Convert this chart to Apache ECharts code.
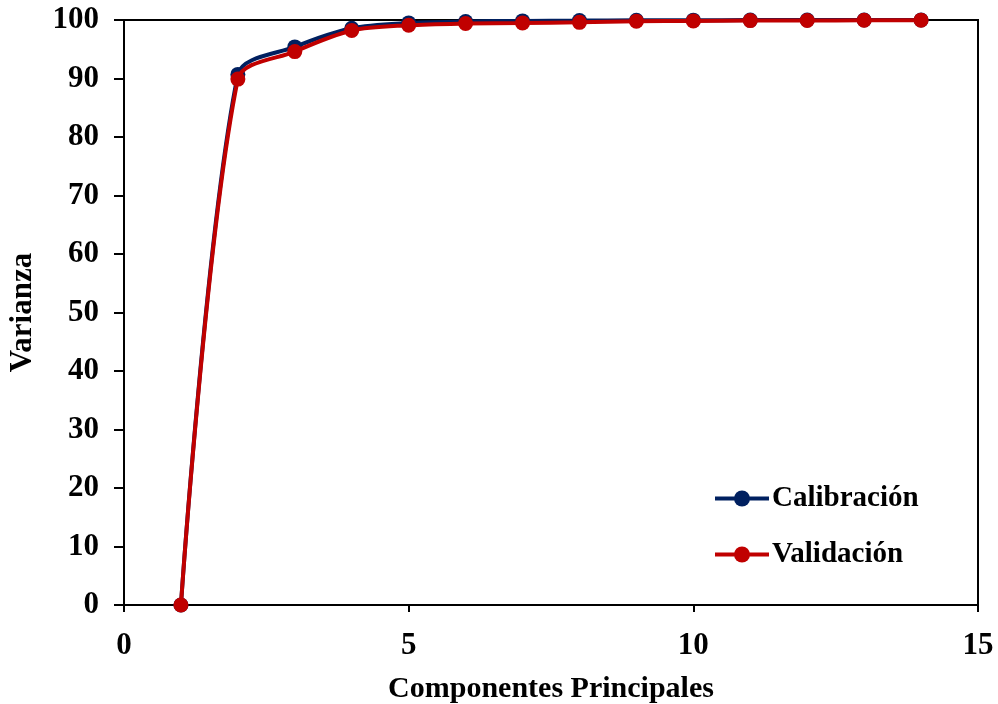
<!DOCTYPE html>
<html>
<head>
<meta charset="utf-8">
<script src="https://cdn.jsdelivr.net/npm/echarts@6/dist/echarts.min.js"></script>
<style>
html,body{margin:0;padding:0;background:#fff;}
#chart{width:998px;height:704px;}
</style>
</head>
<body>
<div id="chart"></div>
<script>
// Cumulative explained variance per number of principal components
const components = [1, 2, 3, 4, 5, 6, 7, 8, 9, 10, 11, 12, 13, 14];
const calibracion = [0, 90.7, 95.4, 98.6, 99.5, 99.75, 99.85, 99.9, 99.95, 99.97, 99.98, 99.99, 100, 100];
const validacion  = [0, 89.9, 94.6, 98.2, 99.1, 99.4, 99.5, 99.6, 99.8, 99.85, 99.9, 99.92, 99.95, 99.97];
const xTicks = [0, 5, 10, 15];
const yTicks = [0, 10, 20, 30, 40, 50, 60, 70, 80, 90, 100];

const FONT = '"Liberation Serif", "Times New Roman", serif';
const chart = echarts.init(document.getElementById('chart'));

const pairs = arr => components.map((c, i) => [c, arr[i]]);

chart.setOption({
  animation: false,
  backgroundColor: '#ffffff',
  textStyle: { fontFamily: FONT },
  grid: {
    left: 124, right: 20, top: 20, bottom: 99, outerBoundsMode: 'none', containLabel: false,
    show: true, borderColor: '#000', borderWidth: 2, backgroundColor: 'transparent'
  },
  legend: {
    left: 713, top: 484, padding: 0, orient: 'vertical', itemGap: 27, itemWidth: 54, itemHeight: 20,
    lineStyle: { width: 4 },
    textStyle: { fontFamily: FONT, fontSize: 29, fontWeight: 'bold', color: '#000', padding: [0, 0, 0, -2] },
    data: ['Calibración', 'Validación']
  },
  xAxis: {
    type: 'value', min: xTicks[0], max: xTicks[xTicks.length - 1], interval: 5,
    name: 'Componentes Principales', nameLocation: 'middle', nameGap: 69,
    nameTextStyle: { fontFamily: FONT, fontSize: 30, fontWeight: 'bold', color: '#000' },
    axisLine: { onZero: false, lineStyle: { color: '#000', width: 2 } },
    axisTick: { show: true, inside: false, length: 7, lineStyle: { color: '#000', width: 2 } },
    axisLabel: { fontFamily: FONT, fontSize: 31, fontWeight: 'bold', color: '#000', margin: 25 },
    splitLine: { show: false }
  },
  yAxis: {
    type: 'value', min: yTicks[0], max: yTicks[yTicks.length - 1], interval: 10,
    name: 'Varianza', nameLocation: 'middle', nameGap: 86,
    nameTextStyle: { fontFamily: FONT, fontSize: 31, fontWeight: 'bold', color: '#000' },
    axisLine: { lineStyle: { color: '#000', width: 2 } },
    axisTick: { show: true, inside: false, length: 10, lineStyle: { color: '#000', width: 2 } },
    axisLabel: { fontFamily: FONT, fontSize: 31, fontWeight: 'bold', color: '#000', margin: 25 },
    splitLine: { show: false }
  },
  series: [
    {
      name: 'Calibración', type: 'line', data: pairs(calibracion), smooth: 0.3,
      symbol: 'circle', symbolSize: 15,
      lineStyle: { color: '#002060', width: 4 },
      itemStyle: { color: '#002060' }, z: 2
    },
    {
      name: 'Validación', type: 'line', data: pairs(validacion), smooth: 0.3,
      symbol: 'circle', symbolSize: 15,
      lineStyle: { color: '#C00000', width: 4 },
      itemStyle: { color: '#C00000' }, z: 3
    }
  ]
});
</script>
</body>
</html>
